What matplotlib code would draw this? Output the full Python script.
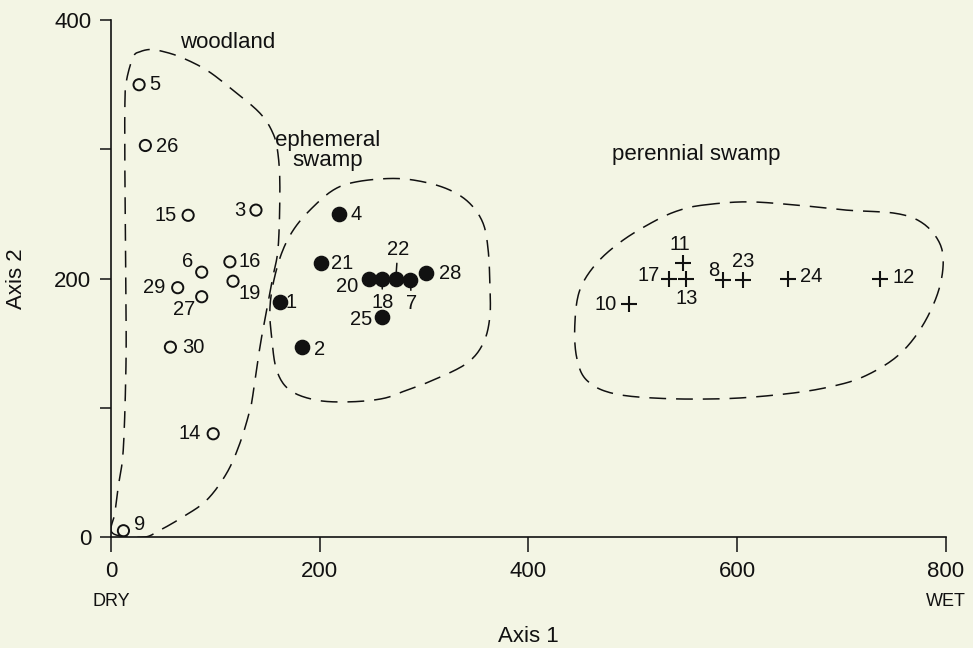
"""Ordination of sites on axes 1 and 2 (dry -> wet) with habitat groupings."""

import matplotlib

matplotlib.use("Agg")
import matplotlib.pyplot as plt
import numpy as np

BG = "#f3f5e4"
INK = "#111111"

plt.rcParams.update({"font.family": ["Liberation Sans", "DejaVu Sans"]})

# woodland sites (open circles)
wood_ids = ["5", "26", "15", "3", "6", "16", "19", "29", "27", "30", "14", "9"]
wood_x = [27, 33, 74, 139, 87, 114, 117, 64, 87, 57, 98, 12]
wood_y = [350, 303, 249, 253, 205, 213, 198, 193, 186, 147, 80, 5]

# ephemeral swamp sites (filled circles)
eph_ids = ["1", "2", "4", "21", "20", "18", "22", "7", "28", "25"]
eph_x = [162, 183, 219, 201, 247, 260, 273, 287, 302, 260]
eph_y = [182, 147, 250, 212, 200, 200, 200, 199, 204, 170]

# perennial swamp sites (crosses)
per_ids = ["11", "13", "17", "8", "23", "24", "12", "10"]
per_x = [548, 551, 535, 587, 606, 649, 737, 496]
per_y = [212, 200, 200, 199, 199, 200, 200, 180]

# hand-traced group outlines
woodland_bx = [1.6, 3.8, 7, 11.8, 14.4, 14.4, 13.4, 13.4, 15, 21.4, 27.8, 37.4, 46.9, 66.1,
               91.7, 116.9, 142.8, 155.2, 160, 161.9, 160.3, 155.2, 149.2, 142.8, 136.3,
               133.2, 123.6, 110.9, 91.7, 69, 46.9, 30.9]
woodland_by = [3.1, 18.6, 38.9, 67.3, 131.8, 183.4, 278.8, 335.8, 353.6, 371.6, 375.5,
               377.3, 376.3, 371.6, 361.3, 345.8, 328, 312.6, 297.1, 270.8, 224.6, 201.4,
               175.6, 147.2, 111.4, 98.3, 72.7, 49.5, 28.6, 15.7, 5.4, 0]
eph_bx = [235.4, 270.5, 299.2, 324.8, 343.9, 356.7, 361.5, 363.1, 363.1, 356.7, 340.8,
          308.8, 283.3, 260.9, 229, 197.1, 171.5, 158.8, 154, 152.3, 155.5, 163.5, 174.7,
          190.7, 213]
eph_by = [274.9, 277.5, 274.9, 268.5, 258.2, 242.7, 222.1, 196.3, 170.4, 149.9, 134.4,
          121.5, 113.7, 107.3, 104.7, 106, 113.7, 129.2, 155, 175.6, 196.3, 219.5, 237.5,
          253, 268.5]
per_bx = [567.5, 609, 657, 704.9, 752.8, 778.3, 794.3, 797.4, 791.1, 775.1, 752.8, 720.8,
          688.9, 650.5, 593.1, 529.2, 481.2, 455.8, 446.2, 444.6, 449.3, 465.3, 490.8,
          522.8, 545.1]
per_by = [256.9, 259.4, 256.9, 253, 250.4, 242.7, 227.2, 209.1, 185.9, 160.2, 139.5, 124,
          116.3, 111.2, 107.3, 107.3, 111.2, 121.5, 139.5, 165.3, 191.1, 211.8, 229.8,
          245.3, 253]

# label offsets in pixels (dx, dy), dy up
OFFSETS = {
    "5": (16, 0), "26": (22, -1), "15": (-23, 0), "3": (-16, 0), "6": (-14, 11),
    "16": (20, 0), "19": (17, -12), "29": (-24, 0), "27": (-18, -13), "30": (23, 0),
    "14": (-24, 0), "9": (16, 6),
    "1": (11, -1), "2": (18, -2), "4": (17, 0), "21": (21, 0), "20": (-22, -8),
    "18": (0, -24), "22": (2, 29), "7": (1, -24), "28": (24, 0), "25": (-21, -2),
    "11": (-3, 19), "13": (1, -20), "17": (-21, 3), "8": (-10, 9), "23": (0, 18),
    "24": (23, 2), "12": (24, 1), "10": (-23, 0),
}
LEADERS = {"18", "22", "7"}


def smooth_closed(x, y, n=12):
    # Catmull-Rom through the traced vertices, closed loop
    p = np.column_stack([x, y])
    k = len(p)
    out = []
    t = np.linspace(0, 1, n, endpoint=False)[:, None]
    for i in range(k):
        p0, p1, p2, p3 = p[(i - 1) % k], p[i], p[(i + 1) % k], p[(i + 2) % k]
        seg = 0.5 * ((2 * p1) + (-p0 + p2) * t + (2 * p0 - 5 * p1 + 4 * p2 - p3) * t**2
                     + (-p0 + 3 * p1 - 3 * p2 + p3) * t**3)
        out.append(seg)
    out = np.vstack(out + [p[:1]])
    return out[:, 0], out[:, 1]


def label_points(ax, ids, xs, ys):
    for i, x, y in zip(ids, xs, ys):
        dx, dy = OFFSETS[i]
        kw = {}
        if i in LEADERS:
            kw["arrowprops"] = dict(arrowstyle="-", color=INK, lw=1.1, shrinkA=1, shrinkB=5)
        ax.annotate(i, (x, y), xytext=(dx, dy), textcoords="offset pixels",
                    ha="center", va="center", fontsize=14.5, color=INK, **kw)


fig = plt.figure(figsize=(9.73, 6.48), dpi=100, facecolor=BG)
ax = fig.add_axes([0.114, 0.171, 0.858, 0.798])
ax.set_facecolor(BG)

dash = dict(color=INK, lw=1.1, linestyle=(0, (11, 6.5)))
for bx, by in [(woodland_bx, woodland_by), (eph_bx, eph_by), (per_bx, per_by)]:
    sx, sy = smooth_closed(bx, by)
    ax.plot(sx, sy, **dash)

ax.scatter(wood_x, wood_y, s=65, facecolors="none", edgecolors=INK, linewidths=1.4, zorder=3)
ax.scatter(eph_x, eph_y, s=105, color=INK, zorder=3)
ax.scatter(per_x, per_y, s=130, marker="+", color=INK, linewidths=1.5, zorder=3)

label_points(ax, wood_ids, wood_x, wood_y)
label_points(ax, eph_ids, eph_x, eph_y)
label_points(ax, per_ids, per_x, per_y)

ax.text(112, 383, "woodland", ha="center", va="center", fontsize=16, color=INK)
ax.text(208, 299, "ephemeral\nswamp", ha="center", va="center", fontsize=16, color=INK,
        linespacing=0.95)
ax.text(561, 296, "perennial swamp", ha="center", va="center", fontsize=16, color=INK)

ax.set_xlim(0, 800)
ax.set_ylim(0, 400)
ax.set_xticks([0, 200, 400, 600, 800])
ax.set_yticks([0, 100, 200, 300, 400], ["0", "", "200", "", "400"])
ax.tick_params(axis="x", direction="out", length=11, width=1.1, pad=6, labelsize=16,
               colors=INK)
ax.tick_params(axis="y", direction="out", length=8, width=1.1, pad=6, labelsize=16,
               colors=INK)
for side in ("top", "right"):
    ax.spines[side].set_visible(False)
for side in ("left", "bottom"):
    ax.spines[side].set_linewidth(1.2)
    ax.spines[side].set_color(INK)

tr = ax.get_xaxis_transform()
ax.text(0, -0.125, "DRY", transform=tr, ha="center", va="center", fontsize=13, color=INK)
ax.text(800, -0.125, "WET", transform=tr, ha="center", va="center", fontsize=13, color=INK)
ax.set_xlabel("Axis 1", fontsize=16, color=INK, labelpad=32)
ax.set_ylabel("Axis 2", fontsize=16, color=INK, labelpad=20)

fig.savefig("out.png", dpi=100, facecolor=BG)
